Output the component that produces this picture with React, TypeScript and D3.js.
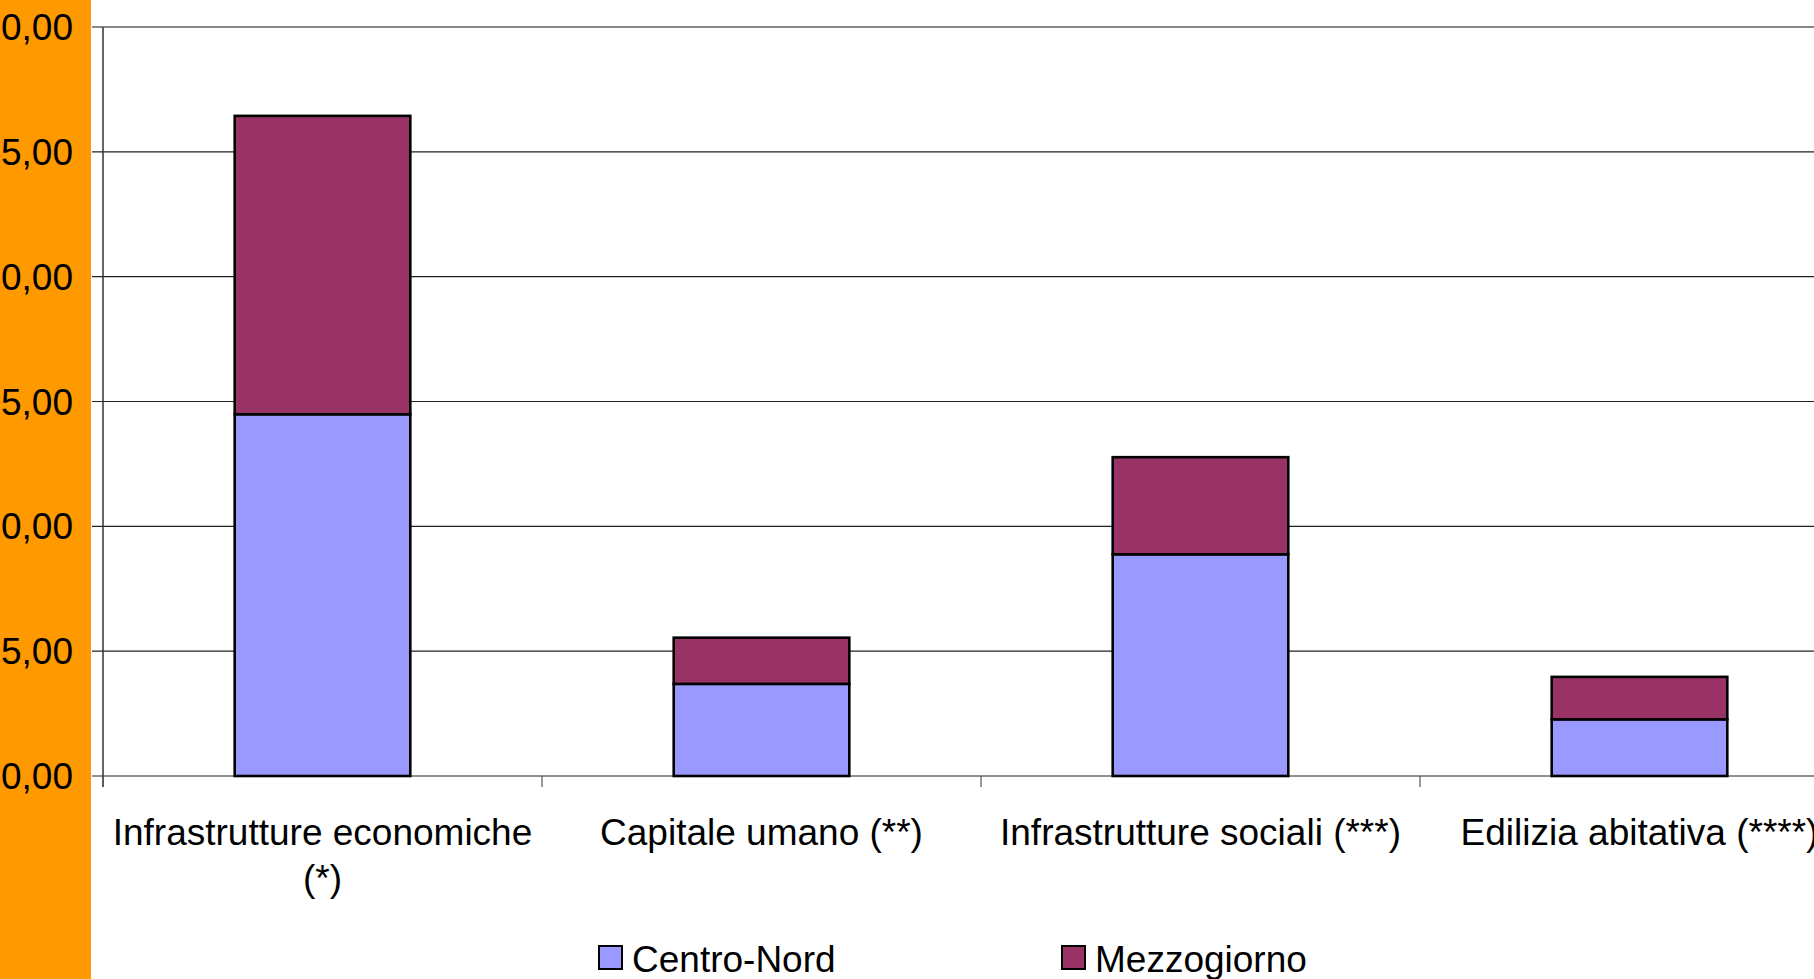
import React, { useEffect, useRef } from 'react';
import * as d3 from 'd3';

const categories = [
  'Infrastrutture economiche (*)',
  'Capitale umano (**)',
  'Infrastrutture sociali (***)',
  'Edilizia abitativa (****)',
];
const categoryLines = [
  ['Infrastrutture economiche', '(*)'],
  ['Capitale umano (**)'],
  ['Infrastrutture sociali (***)'],
  ['Edilizia abitativa (****)'],
];
const seriesNames = ['Centro-Nord', 'Mezzogiorno'];
const centroNord = [14.49, 3.69, 8.88, 2.27];
const mezzogiorno = [11.95, 1.85, 3.89, 1.7];
const yTicks = [0, 5, 10, 15, 20, 25, 30];
const colors = ['#9999ff', '#993366'];

const App = () => {
  const ref = useRef<SVGSVGElement>(null);

  useEffect(() => {
    const width = 1814;
    const height = 979;
    const left = 103;
    const step = 439;
    const fs = 37;
    const font = '"Liberation Sans", Arial, sans-serif';

    const svg = d3.select(ref.current);
    svg.selectAll('*').remove();
    svg.attr('width', width).attr('height', height);

    svg.append('rect').attr('width', width).attr('height', height).attr('fill', '#fff');
    svg.append('rect').attr('width', 91).attr('height', height).attr('fill', '#ff9900');

    const x = d3
      .scaleBand()
      .domain(categories)
      .range([left, left + step * categories.length])
      .paddingInner(0.6)
      .paddingOuter(0.3);

    const y = d3.scaleLinear().domain([0, 30]).range([776, 27]);

    // gridlines + y ticks
    const g = svg.append('g');
    yTicks.forEach((t) => {
      g.append('line')
        .attr('x1', 92)
        .attr('x2', width)
        .attr('y1', y(t))
        .attr('y2', y(t))
        .attr('stroke', t === 30 ? '#888' : '#222')
        .attr('stroke-width', t === 30 ? 2 : 1.2);
      g.append('text')
        .attr('x', 73)
        .attr('y', y(t) + 13)
        .attr('text-anchor', 'end')
        .attr('font-family', font)
        .attr('font-size', fs)
        .attr('fill', '#000')
        .text(d3.format('.2f')(t).replace('.', ','));
    });

    // y axis line
    g.append('line')
      .attr('x1', left)
      .attr('x2', left)
      .attr('y1', y(30))
      .attr('y2', y(0) + 11)
      .attr('stroke', '#333')
      .attr('stroke-width', 1.5);

    // category ticks
    d3.range(categories.length + 1).forEach((i) => {
      g.append('line')
        .attr('x1', left + step * i)
        .attr('x2', left + step * i)
        .attr('y1', y(0))
        .attr('y2', y(0) + 11)
        .attr('stroke', '#555')
        .attr('stroke-width', 1.2);
    });

    // stacked bars
    const rows = categories.map((c, i) => ({ cat: c, cn: centroNord[i], mz: mezzogiorno[i] }));
    const stack = d3.stack<any>().keys(['cn', 'mz'])(rows);
    stack.forEach((layer, li) => {
      svg
        .append('g')
        .selectAll('rect')
        .data(layer)
        .enter()
        .append('rect')
        .attr('x', (d) => x(d.data.cat)!)
        .attr('y', (d) => y(d[1]))
        .attr('width', x.bandwidth())
        .attr('height', (d) => y(d[0]) - y(d[1]))
        .attr('fill', colors[li])
        .attr('stroke', '#000')
        .attr('stroke-width', 2.6);
    });

    // category labels
    categories.forEach((c, i) => {
      const t = svg
        .append('text')
        .attr('text-anchor', 'middle')
        .attr('font-family', font)
        .attr('font-size', fs)
        .attr('fill', '#000');
      categoryLines[i].forEach((line, j) => {
        t.append('tspan')
          .attr('x', x(c)! + x.bandwidth() / 2)
          .attr('y', 845 + j * 46)
          .text(line);
      });
    });

    // legend
    const legendX = [599, 1062];
    seriesNames.forEach((s, i) => {
      svg
        .append('rect')
        .attr('x', legendX[i])
        .attr('y', 946)
        .attr('width', 23)
        .attr('height', 23)
        .attr('fill', colors[i])
        .attr('stroke', '#000')
        .attr('stroke-width', 2);
      svg
        .append('text')
        .attr('x', legendX[i] + 33)
        .attr('y', 972)
        .attr('font-family', font)
        .attr('font-size', fs)
        .attr('fill', '#000')
        .text(s);
    });
  }, []);

  return (
    <div style={{ position: 'fixed', left: 0, top: 0 }}>
      <svg ref={ref} style={{ display: 'block' }}></svg>
    </div>
  );
};

export default App;
